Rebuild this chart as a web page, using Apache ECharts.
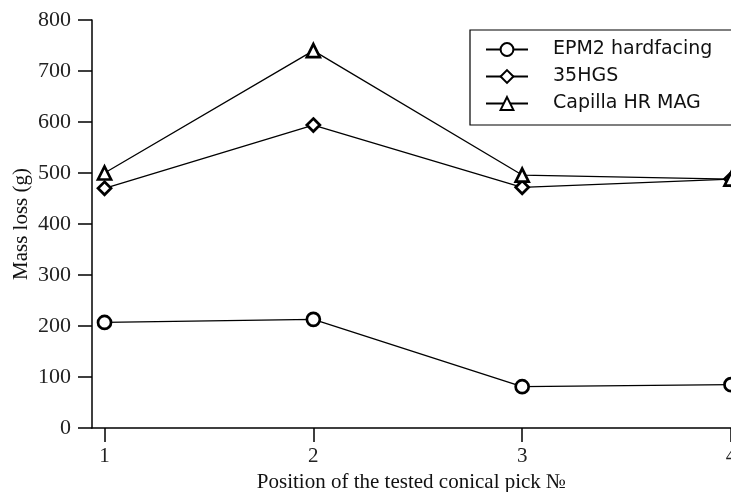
<!DOCTYPE html>
<html>
<head>
<meta charset="utf-8">
<script src="https://cdn.jsdelivr.net/npm/echarts@6/dist/echarts.min.js"></script>
<style>html,body{margin:0;padding:0;background:#fff;}#c{width:731px;height:492px;}</style>
</head>
<body>
<div id="c"></div>
<script>
const positions = [1, 2, 3, 4];
const epm2 = [207, 213, 81, 85];
const hgs35 = [470, 594, 472, 488];
const capilla = [500, 740, 496, 488];
const seriesNames = ['EPM2 hardfacing', '35HGS', 'Capilla HR MAG'];

const chart = echarts.init(document.getElementById('c'));
const serif = 'Liberation Serif';
function mk(name, vals, sym) {
  return {
    name: name, type: 'line',
    data: positions.map((p, i) => [p, vals[i]]),
    symbol: sym, symbolSize: 13,
    showSymbol: true,
    lineStyle: {color: '#000', width: 1.3},
    itemStyle: {color: '#fff', borderColor: '#000', borderWidth: 2.7},
    emphasis: {disabled: true},
    clip: false
  };
}
chart.setOption({
  animation: false,
  grid: {left: 92, top: 20, right: 0, bottom: 64, containLabel: false, outerBoundsMode: 'none'},
  legend: {
    orient: 'vertical', left: 470, top: 30,
    data: seriesNames,
    borderColor: '#000', borderWidth: 1.2,
    padding: [10, 80, 12, 15],
    itemWidth: 42, itemHeight: 16, itemGap: 8,
    textStyle: {fontFamily: 'DejaVu Sans', fontSize: 19, color: '#111', padding: [0, 0, 0, 20]},
    selectedMode: false
  },
  xAxis: {
    type: 'value', min: 0.94, max: 4,
    name: 'Position of the tested conical pick №',
    nameLocation: 'middle', nameGap: 44, nameMoveOverlap: false,
    nameTextStyle: {fontFamily: serif, fontSize: 21, color: '#111'},
    axisLine: {show: true, onZero: false, lineStyle: {color: '#000', width: 1.5}},
    axisTick: {show: true, length: 14, inside: false, customValues: positions, lineStyle: {color: '#000', width: 1.5}},
    axisLabel: {customValues: positions, margin: 18, fontFamily: serif, fontSize: 21, color: '#222'},
    splitLine: {show: false}
  },
  yAxis: {
    type: 'value', min: 0, max: 800, interval: 100,
    name: 'Mass loss (g)',
    nameLocation: 'middle', nameGap: 60, nameMoveOverlap: false,
    nameTextStyle: {fontFamily: serif, fontSize: 21, color: '#111'},
    axisLine: {show: true, lineStyle: {color: '#000', width: 1.5}},
    axisTick: {show: true, length: 14, lineStyle: {color: '#000', width: 1.5}},
    axisLabel: {margin: 21, fontFamily: serif, fontSize: 22, color: '#222'},
    splitLine: {show: false}
  },
  series: [
    mk(seriesNames[0], epm2, 'circle'),
    mk(seriesNames[1], hgs35, 'diamond'),
    mk(seriesNames[2], capilla, 'triangle')
  ]
});
</script>
</body>
</html>
